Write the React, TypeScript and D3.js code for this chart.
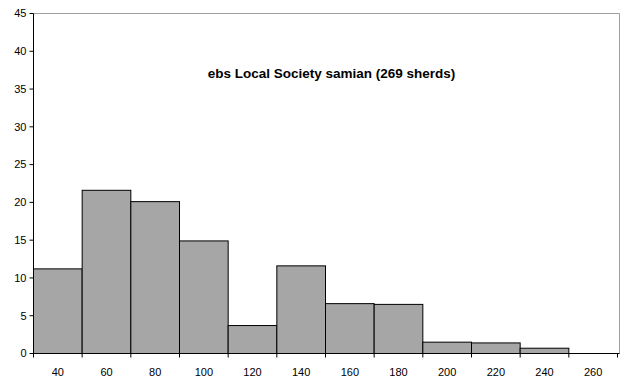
import React from "react";
import * as d3 from "d3";

const binLabels = ["40", "60", "80", "100", "120", "140", "160", "180", "200", "220", "240", "260"];
const values = [11.2, 21.6, 20.1, 14.9, 3.7, 11.6, 6.6, 6.5, 1.5, 1.4, 0.7, 0];
const yTicks = [0, 5, 10, 15, 20, 25, 30, 35, 40, 45];
const title = "ebs Local Society samian (269 sherds)";

export default function App() {
  const W = 620, H = 383;
  const x0 = 33.5, x1 = 617.5, yTop = 13.5, yBot = 353.5;
  const x = d3.scaleBand<string>().domain(binLabels).range([x0, x1]).paddingInner(0).paddingOuter(0);
  const y = d3.scaleLinear().domain([0, 45]).range([yBot, yTop]);
  const font = "Liberation Sans, Arial, sans-serif";
  return (
    <svg width={W} height={H} style={{ position: "absolute", left: 0, top: 0, background: "#fff" }}>
      <line x1={x0} x2={619.5} y1={yTop} y2={yTop} stroke="#a0a0a0" />
      <line x1={619.5} x2={619.5} y1={yTop} y2={yBot} stroke="#a0a0a0" />
      {values.map((v, i) =>
        v > 0 ? (
          <rect key={i} x={x(binLabels[i])!} y={y(v)} width={x.bandwidth()} height={yBot - y(v)}
            fill="#a6a6a6" stroke="#000" strokeWidth={1} />
        ) : null
      )}
      <line x1={x0} x2={x0} y1={yTop} y2={yBot} stroke="#000" />
      <line x1={x0} x2={619.5} y1={yBot} y2={yBot} stroke="#000" />
      {yTicks.map((t) => (
        <g key={t}>
          <line x1={x0 - 4} x2={x0} y1={y(t)} y2={y(t)} stroke="#000" />
          <text x={x0 - 7} y={y(t)} dy="0.35em" textAnchor="end" fontFamily={font} fontSize={11} fill="#000">{t}</text>
        </g>
      ))}
      {binLabels.map((l, i) => (
        <g key={l}>
          <line x1={x(l)!} x2={x(l)!} y1={yBot} y2={yBot + 4} stroke="#000" />
          <text x={x(l)! + x.bandwidth() / 2} y={375.5} textAnchor="middle" fontFamily={font} fontSize={11} fill="#000">{l}</text>
        </g>
      ))}
      <line x1={x1} x2={x1} y1={yBot} y2={yBot + 4} stroke="#000" />
      <text x={331.5} y={78} textAnchor="middle" fontFamily={font} fontSize={13.5} fontWeight="bold" fill="#000">{title}</text>
    </svg>
  );
}
